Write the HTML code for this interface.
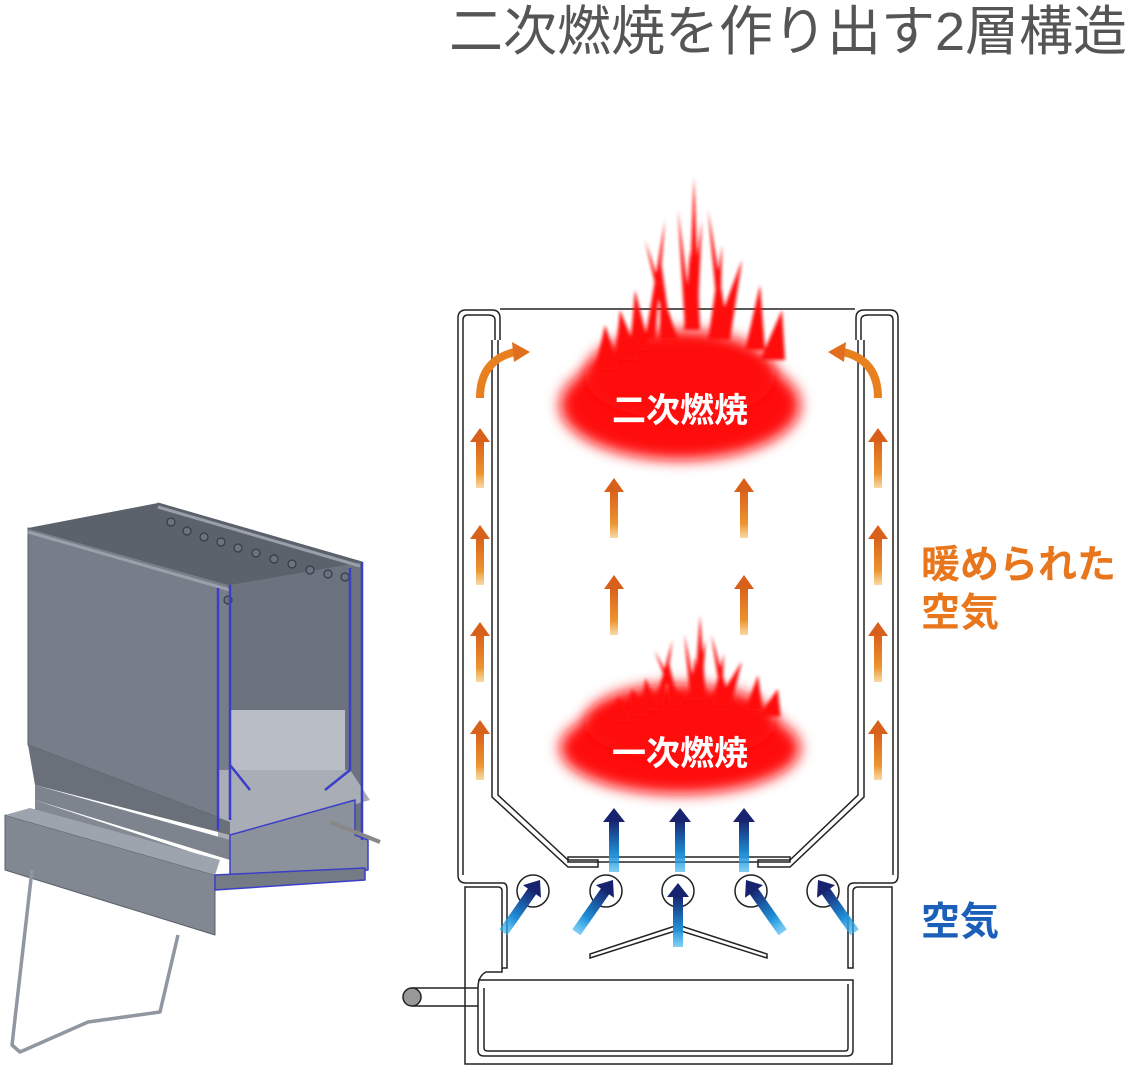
<!DOCTYPE html>
<html><head><meta charset="utf-8"><style>
html,body{margin:0;padding:0;background:#fff;}
svg{display:block;}
text{font-family:"Liberation Sans","Noto Sans CJK JP",sans-serif;}
</style></head><body>
<svg width="1130" height="1067" viewBox="0 0 1130 1067" xmlns="http://www.w3.org/2000/svg">
<defs>
<linearGradient id="bu" x1="0" y1="1" x2="0" y2="0"><stop offset="0" stop-color="#2fb0ee" stop-opacity="0.6"/><stop offset="0.35" stop-color="#1f8fd8"/><stop offset="1" stop-color="#17236e"/></linearGradient>
<linearGradient id="or" x1="0" y1="1" x2="0" y2="0"><stop offset="0" stop-color="#f2b04a" stop-opacity="0.5"/><stop offset="0.3" stop-color="#ec9430"/><stop offset="1" stop-color="#d9601a"/></linearGradient>
<filter id="bl" x="-30%" y="-30%" width="160%" height="160%"><feGaussianBlur stdDeviation="7"/></filter>
<filter id="bl2" x="-30%" y="-30%" width="160%" height="160%"><feGaussianBlur stdDeviation="1.5"/></filter>
<g id="oa"><rect x="-4" y="12" width="8" height="48" fill="url(#or)"/><polygon points="-10,14 0,0 10,14" fill="#d9601a"/></g>
<g id="ba"><rect x="-5" y="12" width="10" height="52" fill="url(#bu)"/><polygon points="-11,14 0,0 11,14" fill="#17236e"/></g>
<g id="sp">
<polygon points="-6,0 0,-80 6,0"/><polygon points="-5,0 -12,-120 3,0"/><polygon points="-3,0 12,-110 7,0"/>
<polygon points="-30,10 -30,-75 -18,10"/><polygon points="-22,10 -45,-90 -12,10"/><polygon points="18,10 32,-85 30,10"/>
<polygon points="22,10 52,-70 40,10"/><polygon points="-60,20 -55,-40 -40,20"/><polygon points="-75,30 -70,-20 -50,30"/>
<polygon points="55,20 70,-45 75,20"/><polygon points="70,30 92,-20 95,30"/><polygon points="-95,40 -85,-5 -70,40"/>
<polygon points="-45,10 -25,-110 -35,10"/><polygon points="30,10 18,-120 40,10"/>
</g>
</defs>

<text x="1127" y="50" text-anchor="end" font-size="54" fill="#555">二次燃焼を作り出す2層構造</text>

<!-- left 3D stove -->
<g stroke-linejoin="round">
<polygon points="158,503 362,562 362,840 158,790" fill="#6d737e" stroke="#555b66"/>
<polygon points="28,528 158,503 362,562 230,585" fill="#5c626c"/>
<polygon points="28,528 230,585 230,822 28,745" fill="#787e89" stroke="#5a606a"/>
<line x1="28" y1="532" x2="230" y2="590" stroke="#9aa0aa" stroke-width="3"/>
<line x1="158" y1="507" x2="360" y2="566" stroke="#9aa0aa" stroke-width="3"/>
<g fill="#6d737e" stroke="#333a48" stroke-width="1.2">
<circle cx="171" cy="522" r="4"/><circle cx="187" cy="531" r="4"/><circle cx="204" cy="537" r="4"/><circle cx="221" cy="542" r="4"/><circle cx="238" cy="548" r="4"/><circle cx="256" cy="553" r="4"/><circle cx="274" cy="559" r="4"/><circle cx="292" cy="564" r="4"/><circle cx="310" cy="570" r="4"/><circle cx="328" cy="574" r="4"/><circle cx="345" cy="577" r="4"/><circle cx="228" cy="600" r="4"/>
</g>
<polygon points="230,710 345,710 345,770 325,788 250,788 230,770" fill="#b9bdc5"/>
<polygon points="218,770 350,770 370,800 300,820 260,850 218,840" fill="#a9adb6"/>
<polygon points="28,745 230,822 230,835 35,785" fill="#6a707a"/>
<polygon points="35,785 230,840 230,860 35,800" fill="#7e848e"/>
<polygon points="35,800 215,860 215,885 35,835" fill="#838993"/>
<polygon points="230,835 355,800 355,835 368,840 368,870 230,880" fill="#8c929c" stroke="#3b3ec8" stroke-width="1.5"/>
<polygon points="5,815 215,875 215,935 5,870" fill="#828892" stroke="#5a606a"/>
<polygon points="5,815 30,808 220,860 215,875" fill="#9ea4ae"/>
<polygon points="215,875 365,868 365,880 215,890" fill="#757b85" stroke="#3b3ec8" stroke-width="1.5"/>
<path d="M230,585 V820 M362,562 V840 M218,588 V830 M350,568 V770 L325,790 M230,765 L250,790" stroke="#3b3ec8" stroke-width="2.5" fill="none"/>
<line x1="330" y1="822" x2="380" y2="842" stroke="#888" stroke-width="4"/>
<path d="M32,870 L12,1045 L20,1052 L88,1022 L160,1012 L178,935" stroke="#9097a0" stroke-width="3.5" fill="none"/>
</g>

<!-- diagram walls -->
<g fill="none" stroke="#222" stroke-width="1.5">
<line x1="500" y1="309" x2="855" y2="309"/>
<path d="M458,875 V318 Q458,310 466,310 H492 Q500,310 500,318 V340"/>
<path d="M463,875 V320 Q463,315 468,315 H488 Q495,315 495,320 V340"/>
<path d="M498,340 V795 L568,860 H598 V867 H568 L492,797 V340"/>
<path d="M898,875 V318 Q898,310 890,310 H864 Q856,310 856,318 V340"/>
<path d="M893,875 V320 Q893,315 888,315 H868 Q861,315 861,320 V340"/>
<path d="M858,340 V795 L790,860 H758 V867 H790 L864,797 V340"/>
<path d="M458,875 Q458,883 466,883 H503 Q507,883 507,889 V968 H502 V891 Q502,887 498,887 H465 V1064 H892 V887 H858 Q853,887 853,892 V968 H848 V889 Q848,883 854,883 H892 Q898,883 898,875"/>
<rect x="568" y="857" width="222" height="5"/>
<path d="M590,958 L678,930 L767,958 L767,954 L678,925 L590,954 Z"/>
<path d="M478,988 V1050 Q478,1056 484,1056 H847 Q853,1056 853,1050 V980 H478 M484,988 V1048 Q484,1051 488,1051 H845 Q848,1051 848,1048 V984 M478,988 Q478,976 486,972 H502 V968"/>
<path d="M412,988 H478 M412,1006 H478"/>
</g>
<circle cx="412" cy="997" r="9" fill="#999" stroke="#222" stroke-width="1.5"/>
<g fill="none" stroke="#222" stroke-width="1.5">
<circle cx="533" cy="891" r="16"/><circle cx="606" cy="891" r="16"/><circle cx="678" cy="891" r="16"/><circle cx="751" cy="891" r="16"/><circle cx="823" cy="891" r="16"/>
</g>

<!-- flames -->
<g fill="#ff1010">
<ellipse cx="680" cy="405" rx="120" ry="55" filter="url(#bl)"/>
<ellipse cx="680" cy="375" rx="95" ry="45" filter="url(#bl)"/>
<g filter="url(#bl2)">
<use href="#sp" transform="translate(690,330)"/>
<polygon points="688,330 694,177 700,330"/>
</g>
<ellipse cx="680" cy="748" rx="120" ry="46" filter="url(#bl)"/>
<ellipse cx="680" cy="722" rx="95" ry="38" filter="url(#bl)"/>
<g filter="url(#bl2)">
<use href="#sp" transform="translate(695,700) scale(0.9,0.55)"/>
<polygon points="694,700 700,615 706,700"/>
</g>
</g>
<text x="680" y="422" text-anchor="middle" font-size="34" font-weight="bold" fill="#fff">二次燃焼</text>
<text x="680" y="765" text-anchor="middle" font-size="34" font-weight="bold" fill="#fff">一次燃焼</text>

<!-- orange arrows -->
<use href="#oa" x="480" y="428"/><use href="#oa" x="480" y="525"/><use href="#oa" x="480" y="622"/><use href="#oa" x="480" y="720"/>
<use href="#oa" x="878" y="428"/><use href="#oa" x="878" y="525"/><use href="#oa" x="878" y="622"/><use href="#oa" x="878" y="720"/>
<use href="#oa" x="614" y="478"/><use href="#oa" x="614" y="575"/><use href="#oa" x="744" y="478"/><use href="#oa" x="744" y="575"/>
<path d="M480,398 Q480,360 515,352" stroke="#e8801f" stroke-width="8" fill="none"/>
<polygon points="512,342 530,352 514,362" fill="#e07020"/>
<path d="M878,398 Q878,360 843,352" stroke="#e8801f" stroke-width="8" fill="none"/>
<polygon points="846,342 828,352 844,362" fill="#e07020"/>

<!-- blue arrows -->
<use href="#ba" x="614" y="808"/><use href="#ba" x="680" y="808"/><use href="#ba" x="744" y="808"/>
<use href="#ba" x="678" y="883"/>
<use href="#ba" transform="translate(540,880) rotate(35)"/>
<use href="#ba" transform="translate(613,880) rotate(35)"/>
<use href="#ba" transform="translate(746,880) rotate(-35)"/>
<use href="#ba" transform="translate(818,880) rotate(-35)"/>

<text x="921" y="578" font-size="39" font-weight="bold" fill="#e8761c">暖められた</text>
<text x="921" y="626" font-size="39" font-weight="bold" fill="#e8761c">空気</text>
<text x="921" y="935" font-size="39" font-weight="bold" fill="#1c5fb8">空気</text>
</svg>
</body></html>
